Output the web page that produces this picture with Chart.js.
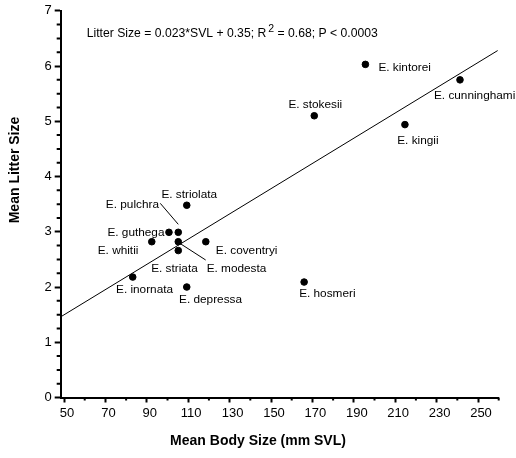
<!DOCTYPE html>
<html>
<head>
<meta charset="utf-8">
<script src="https://cdn.jsdelivr.net/npm/chart.js@4"></script>
<style>
  body { margin: 0; background: #fff; }
  canvas { display: block; }
</style>
</head>
<body>
<canvas id="litterChart" width="516" height="458"></canvas>
<script>
// species
const species = [
  "E. kintorei", "E. cunninghami", "E. stokesii", "E. kingii", "E. hosmeri",
  "E. striolata", "E. pulchra", "E. guthega", "E. whitii", "E. modesta",
  "E. coventryi", "E. striata", "E. inornata", "E. depressa",
];
const bodySize = [195.6, 241.3, 170.9, 214.7, 166, 109.3, 105.2, 100.7, 92.4, 105.2, 118.5, 105.2, 83.2, 109.3];
const litterSize = [6.03, 5.75, 5.1, 4.94, 2.09, 3.48, 2.99, 2.99, 2.82, 2.82, 2.82, 2.66, 2.18, 2.0];

// regression line ends as drawn
const fitX = [48.4, 259.5];
const fitY = [1.46, 6.28];

const xTickValues = [50, 70, 90, 110, 130, 150, 170, 190, 210, 230, 250];
const xMinorValues = [60, 80, 100, 120, 140, 160, 180, 200, 220, 240, 260];
const yTickValues = [0, 1, 2, 3, 4, 5, 6, 7];

// label placement relative to each point: [dx, dy, align]
const labelPos = [
  [13, 3.3, "left"], [-26, 16, "left"], [1, -11, "center"], [-7.7, 16.6, "left"],
  [-5, 11.6, "left"], [2.5, -10.6, "center"], [-19.3, -27.4, "right"], [-4.5, 0, "right"],
  [-13.4, 9.3, "right"], [28.4, 26.7, "left"], [10, 9.3, "left"], [-3.8, 17.7, "center"],
  [11.8, 12.3, "center"], [-7.7, 12.6, "left"],
];
// leader lines (pulchra, modesta)
const leaders = { 6: [-18, -29, 0, -8], 9: [1.7, 1.7, 27.4, 18.3] };

const FONT = "'Liberation Sans', Arial, sans-serif";
Chart.defaults.font.family = FONT;
Chart.defaults.color = "#000";

const extras = {
  id: "extras",
  afterDraw(chart) {
    const { ctx, chartArea, scales } = chart;
    const x = scales.x, y = scales.y;
    ctx.save();
    ctx.strokeStyle = "#000";
    ctx.lineWidth = 2;
    // minor ticks
    ctx.beginPath();
    xMinorValues.forEach(v => {
      const px = x.getPixelForValue(v);
      ctx.moveTo(px, chartArea.bottom);
      ctx.lineTo(px, chartArea.bottom + 3);
    });
    for (let v = 0.25; v < 7; v += 0.25) {
      if (Math.abs(v - Math.round(v)) < 0.01) continue;
      const py = y.getPixelForValue(v);
      ctx.moveTo(chartArea.left, py);
      ctx.lineTo(chartArea.left - 4, py);
    }
    ctx.stroke();

    // point labels
    ctx.fillStyle = "#000";
    ctx.font = "11.8px " + FONT;
    ctx.textBaseline = "middle";
    species.forEach((name, i) => {
      const px = x.getPixelForValue(bodySize[i]);
      const py = y.getPixelForValue(litterSize[i]);
      const [dx, dy, align] = labelPos[i];
      ctx.textAlign = align;
      ctx.fillText(name, px + dx, py + dy);
      if (leaders[i]) {
        const l = leaders[i];
        ctx.lineWidth = 1;
        ctx.beginPath();
        ctx.moveTo(px + l[0], py + l[1]);
        ctx.lineTo(px + l[2], py + l[3]);
        ctx.stroke();
      }
    });

    // equation
    ctx.textAlign = "left";
    let tx = 86.7;
    const ty = 33.3;
    const part1 = "Litter Size = 0.023*SVL + 0.35; R";
    ctx.font = "12.2px " + FONT;
    ctx.fillText(part1, tx, ty);
    tx += ctx.measureText(part1).width + 2;
    ctx.font = "10.5px " + FONT;
    ctx.fillText("2", tx, ty - 4);
    tx += ctx.measureText("2").width;
    ctx.font = "12.2px " + FONT;
    ctx.fillText(" = 0.68; P < 0.0003", tx, ty);

    // axis titles
    ctx.font = "bold 14px " + FONT;
    ctx.textAlign = "center";
    ctx.fillText("Mean Body Size (mm SVL)", 258, 441);
    ctx.translate(15, 170);
    ctx.rotate(-Math.PI / 2);
    ctx.fillText("Mean Litter Size", 0, 0);
    ctx.restore();
  },
};

const ctx = document.getElementById("litterChart");
new Chart(ctx, {
  type: "scatter",
  data: {
    datasets: [
      {
        label: "Species",
        data: bodySize.map((v, i) => ({ x: v, y: litterSize[i] })),
        backgroundColor: "#000",
        borderColor: "#000",
        pointRadius: 3.3,
        pointHoverRadius: 3.3,
      },
      {
        type: "line",
        label: "Fit",
        data: fitX.map((v, i) => ({ x: v, y: fitY[i] })),
        borderColor: "#000",
        borderWidth: 1,
        pointRadius: 0,
        fill: false,
      },
    ],
  },
  options: {
    responsive: false,
    animation: false,
    layout: { padding: { top: 7, right: 17.3, left: 0, bottom: 0 } },
    plugins: {
      legend: { display: false },
      tooltip: { enabled: false },
    },
    scales: {
      x: {
        type: "linear",
        min: 48.4,
        max: 260,
        afterBuildTicks: (s) => { s.ticks = xTickValues.map(v => ({ value: v })); },
        afterFit: (s) => { s.height = 60.5; },
        border: { display: true, color: "#000", width: 2 },
        grid: { drawOnChartArea: false, drawTicks: true, tickLength: 5, tickColor: "#000", tickWidth: 2 },
        ticks: { font: { size: 13 }, color: "#000", padding: 3, labelOffset: 3, maxRotation: 0 },
      },
      y: {
        min: 0,
        max: 7,
        afterBuildTicks: (s) => { s.ticks = yTickValues.map(v => ({ value: v })); },
        afterFit: (s) => { s.width = 60.7; },
        border: { display: true, color: "#000", width: 2 },
        grid: { drawOnChartArea: false, drawTicks: true, tickLength: 6, tickColor: "#000", tickWidth: 2 },
        ticks: { font: { size: 13 }, color: "#000", padding: 3 },
      },
    },
  },
  plugins: [extras],
});
</script>
</body>
</html>
